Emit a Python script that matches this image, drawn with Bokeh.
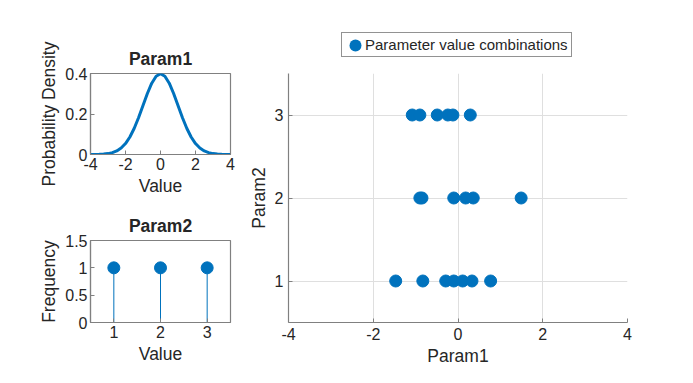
from bokeh.plotting import figure
from bokeh.layouts import row, column
from bokeh.models import FixedTicker, Legend, LegendItem, Range1d
from bokeh.embed import file_html
from bokeh.resources import INLINE

# ---- data ----
pdf_x = [-4, -3.75, -3.5, -3.25, -3, -2.75, -2.5, -2.25, -2, -1.75, -1.5, -1.25, -1, -0.75, -0.5, -0.25,
         0, 0.25, 0.5, 0.75, 1, 1.25, 1.5, 1.75, 2, 2.25, 2.5, 2.75, 3, 3.25, 3.5, 3.75, 4]
pdf_y = [0.0001, 0.0004, 0.0009, 0.0020, 0.0044, 0.0091, 0.0175, 0.0317, 0.0540, 0.0863, 0.1295, 0.1826,
         0.2420, 0.3011, 0.3521, 0.3867, 0.3989, 0.3867, 0.3521, 0.3011, 0.2420, 0.1826, 0.1295, 0.0863,
         0.0540, 0.0317, 0.0175, 0.0091, 0.0044, 0.0020, 0.0009, 0.0004, 0.0001]

param2_levels = [1, 2, 3]
param2_freq = [1, 1, 1]

param1_vals = [-1.47, -0.83, -0.29, -0.10, 0.11, 0.33, 0.77,
               -0.90, -0.85, -0.10, 0.18, 0.36, 1.49,
               -1.08, -0.90, -0.49, -0.24, -0.12, 0.29]
param2_vals = [1, 1, 1, 1, 1, 1, 1,
               2, 2, 2, 2, 2, 2,
               3, 3, 3, 3, 3, 3]

x_ticks = [-4, -2, 0, 2, 4]
x_tick_labels = {-4: "-4", -2: "-2", 0: "0", 2: "2", 4: "4"}

BLUE = "#0072BD"
TXT = "#262626"
AX = "#808080"
FONT = "Liberation Sans"
TICK_FS = "16px"
LAB_FS = "17.5px"


def style_axes(p, grid=False, box=True):
    for ax in list(p.xaxis) + list(p.yaxis):
        ax.major_tick_in = 4
        ax.major_tick_out = 0
        ax.minor_tick_line_color = None
        ax.axis_line_color = AX
        ax.axis_line_width = 1.2
        ax.major_tick_line_color = AX
        ax.major_label_text_font = FONT
        ax.major_label_text_font_size = TICK_FS
        ax.major_label_text_color = TXT
        ax.axis_label_text_font = FONT
        ax.axis_label_text_font_size = LAB_FS
        ax.axis_label_text_color = TXT
        ax.axis_label_text_font_style = "normal"
        ax.major_label_standoff = 3
        ax.axis_label_standoff = 3
    if not grid:
        p.xgrid.grid_line_color = None
        p.ygrid.grid_line_color = None
    else:
        p.xgrid.grid_line_color = "#dfdfdf"
        p.ygrid.grid_line_color = "#dfdfdf"
    if box:
        p.outline_line_color = AX
        p.outline_line_width = 1.2
    else:
        p.outline_line_color = None
    p.title.text_font = FONT
    p.title.text_font_size = LAB_FS
    p.title.text_font_style = "bold"
    p.title.text_color = TXT
    p.title.align = "center"


# ---- top-left: Param1 pdf ----
pa = figure(output_backend="svg", toolbar_location=None, title="Param1",
            frame_width=140, frame_height=81,
            min_border_left=90, min_border_right=10, min_border_top=73, min_border_bottom=45,
            x_range=Range1d(-4, 4), y_range=Range1d(0, 0.4))
pa.line(pdf_x, pdf_y, line_color=BLUE, line_width=3)
pa.xaxis.ticker = FixedTicker(ticks=x_ticks)
pa.xaxis.major_label_overrides = x_tick_labels
pa.yaxis.ticker = FixedTicker(ticks=[0, 0.2, 0.4])
pa.yaxis.major_label_overrides = {0: "0", 0.2: "0.2", 0.4: "0.4"}
pa.xaxis.axis_label = "Value"
pa.yaxis.axis_label = "Probability Density"
style_axes(pa)

# ---- bottom-left: Param2 stem ----
pb = figure(output_backend="svg", toolbar_location=None, title="Param2",
            frame_width=140, frame_height=82,
            min_border_left=90, min_border_right=10, min_border_top=41, min_border_bottom=45,
            x_range=Range1d(0.5, 3.5), y_range=Range1d(0, 1.5))
pb.segment(x0=param2_levels, y0=[0] * len(param2_levels), x1=param2_levels, y1=param2_freq,
           line_color=BLUE, line_width=1)
pb.scatter(param2_levels, param2_freq, size=12, fill_color=BLUE, line_color=BLUE)
pb.xaxis.ticker = FixedTicker(ticks=[1, 2, 3])
pb.yaxis.ticker = FixedTicker(ticks=[0, 0.5, 1, 1.5])
pb.yaxis.major_label_overrides = {0: "0", 0.5: "0.5", 1: "1", 1.5: "1.5"}
pb.xaxis.axis_label = "Value"
pb.yaxis.axis_label = "Frequency"
style_axes(pb)

# ---- right: scatter ----
pc = figure(output_backend="svg", toolbar_location=None,
            frame_width=339, frame_height=249,
            min_border_left=48, min_border_right=40, min_border_top=0, min_border_bottom=45,
            x_range=Range1d(-4, 4), y_range=Range1d(0.5, 3.5))
r = pc.scatter(param1_vals, param2_vals, size=12, fill_color=BLUE, line_color=BLUE)
pc.xaxis.ticker = FixedTicker(ticks=x_ticks)
pc.xaxis.major_label_overrides = x_tick_labels
pc.yaxis.ticker = FixedTicker(ticks=[1, 2, 3])
pc.xaxis.axis_label = "Param1"
pc.yaxis.axis_label = "Param2"
style_axes(pc, grid=True, box=False)
pc.xaxis.major_label_standoff = 5
pc.yaxis.major_label_standoff = 5

# ---- legend strip above the scatter (proxy drawn outside its visible range) ----
pl = figure(output_backend="svg", toolbar_location=None,
            frame_width=427, frame_height=73,
            min_border_left=0, min_border_right=0, min_border_top=0, min_border_bottom=0,
            x_axis_type=None, y_axis_type=None,
            x_range=Range1d(0, 1), y_range=Range1d(100, 101))
pl.outline_line_color = None
pl.xgrid.grid_line_color = None
pl.ygrid.grid_line_color = None
# a round-capped zero-length dash gives a 12px dot as the legend key
proxy = pl.line(param1_vals, param2_vals, line_color=BLUE, line_width=12, line_cap="round",
                line_dash="0 100", line_dash_offset=-10)

legend = Legend(items=[LegendItem(label="Parameter value combinations", renderers=[proxy])],
                location=(101, 16), orientation="horizontal")
legend.label_text_font = FONT
legend.label_text_font_size = "15px"
legend.label_text_color = TXT
legend.border_line_color = "#262626"
legend.border_line_width = 1
legend.background_fill_color = "white"
legend.background_fill_alpha = 1
legend.padding = 3
legend.margin = 0
legend.glyph_width = 17
legend.glyph_height = 16
legend.label_standoff = 3
legend.label_height = 17
pl.add_layout(legend, "center")

layout = row(column(pa, pb), column(pl, pc))
open("out.html", "w").write(file_html(layout, INLINE))
